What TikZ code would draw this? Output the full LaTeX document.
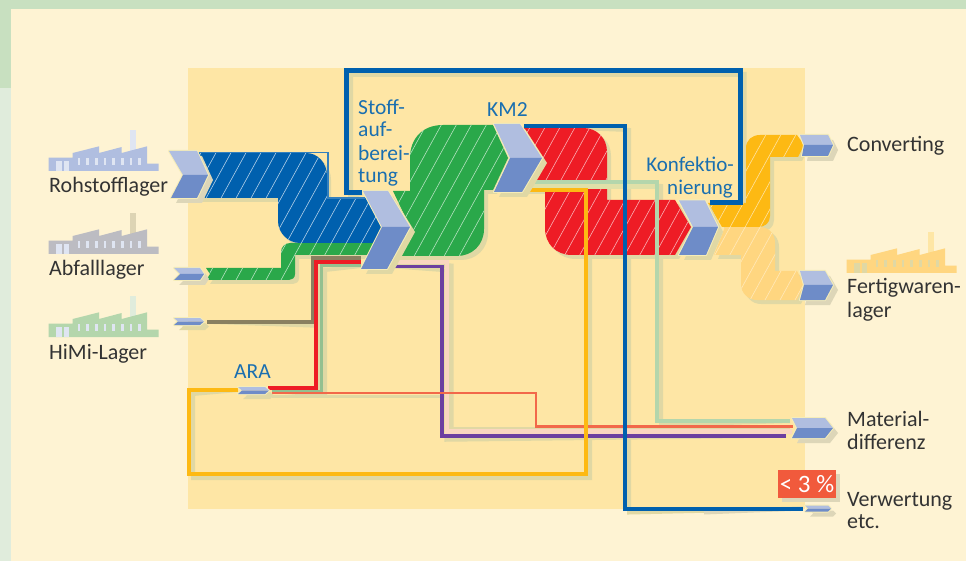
\documentclass[tikz,border=0pt]{standalone}
\usepackage{fontspec}
\setmainfont{Carlito}
\definecolor{cream}{HTML}{FEF3D3}
\definecolor{panel}{HTML}{FEE6A5}
\definecolor{topg}{HTML}{C8E0C0}
\definecolor{sideg}{HTML}{E0ECDC}
\definecolor{shad}{HTML}{E0D8A4}
\definecolor{shadc}{HTML}{DDD6B8}
\definecolor{fblue}{HTML}{0060AE}
\definecolor{fgreen}{HTML}{2AA84A}
\definecolor{fred}{HTML}{EE1C25}
\definecolor{forange}{HTML}{FDB913}
\definecolor{flight}{HTML}{FFD680}
\definecolor{palegreen}{HTML}{B4D6AC}
\definecolor{midgreen}{HTML}{94C090}
\definecolor{brownl}{HTML}{8A8060}
\definecolor{purplel}{HTML}{6C3FA0}
\definecolor{pinkl}{HTML}{FAD6C0}
\definecolor{coral}{HTML}{F2684A}
\definecolor{chevU}{HTML}{B0BEE0}
\definecolor{chevD}{HTML}{6E8CC8}
\definecolor{chevE}{HTML}{F6EDB8}
\definecolor{txt}{HTML}{333333}
\definecolor{txtb}{HTML}{1A6FB0}
\definecolor{badge}{HTML}{F15A3C}
\definecolor{factgrey}{HTML}{BCBCC2}
\definecolor{chimgrey}{HTML}{DDD4B4}
\definecolor{factwin}{HTML}{DFE5F2}
\tikzset{
  lab/.style={anchor=base west,inner sep=0pt,text=txt,font=\fontsize{22}{24}\selectfont},
  blab/.style={anchor=base west,inner sep=0pt,text=txtb,font=\fontsize{21.5}{24}\selectfont},
  blabr/.style={anchor=base east,inner sep=0pt,text=txtb,font=\fontsize{21}{24}\selectfont},
}
% flow block: fill colour, hatch colour, path
\newcommand\flowblock[3]{%
  \begin{scope}
    \fill[#1] #3;
    \clip #3;
    \foreach \c in {0,15,...,1200} \draw[#2,line width=.6pt] (\c,0) -- (\c-330,600);
  \end{scope}}
\newcommand\flowshadow[1]{\fill[shad,shift={(4,4)}] #1;}
% chevron: A top-left, B top-right, C tip, D bottom-right, E bottom-left, F notch
\newcommand\chev[7][shad]{%
  \fill[#1,shift={(5,5)}] #2 -- #3 -- #4 -- #5 -- #6 -- #7 -- cycle;
  \draw[chevE,line width=2pt,line join=round] #2 -- #3 -- #4 -- #5 -- #6 -- #7 -- cycle;
  \fill[chevU] #2 -- #3 -- #4 -- #7 -- cycle;
  \fill[chevD] #7 -- #4 -- #5 -- #6 -- cycle;}
% factory: x, y base, body, chimney, windows
\newcommand\factory[5]{%
  \begin{scope}[shift={(#1,#2)},x=.3333pt,y=-.3333pt]
    \fill[#4] (243,-122) rectangle (262,-50);
    \fill[#3] (0,0) -- (0,-40) -- (72,-40) -- (72,-54) -- (151,-74) -- (151,-54) -- (219,-72) -- (219,-54) -- (295,-74) -- (295,-22) -- (330,-22) -- (330,0) -- cycle;
    \fill[#5] (22,0) rectangle (40,-30);
    \fill[#5] (45,0) rectangle (60,-30);
    \foreach \w in {87,113,139,165,191,217,243,269} \fill[#5] (\w,-18) rectangle (\w+8,-40);
  \end{scope}}
\begin{document}
\begin{tikzpicture}[x=1pt,y=-1pt]
\useasboundingbox (0,0) rectangle (966,561);
% background
\fill[cream] (0,0) rectangle (966,561);
\fill[sideg] (0,0) rectangle (11,561);
\fill[topg] (0,0) rectangle (11,88);
\fill[topg] (0,0) rectangle (966,9);
\fill[panel] (188,68) rectangle (805,509);
% paths of the flow blocks
\def\pBlue{(198,153) -- (306,153) .. controls (318,153) and (327,163) .. (327,176) -- (327,198) -- (366,198) -- (385,227) -- (374,243) -- (300,243) .. controls (288,243) and (278,233) .. (278,221) -- (278,198) -- (198,198) -- (209,175) -- cycle}
\def\pGreenA{(206,268) -- (281,268) -- (281,252) .. controls (281,247) and (285,243) .. (290,243) -- (380,243) -- (372,255) -- (295,255) -- (295,274) .. controls (295,278) and (292,280) .. (289,280) -- (206,280) -- (210,274) -- cycle}
\def\pGreenB{(393,191) -- (410,191) -- (410,158) .. controls (410,139) and (422,125) .. (443,125) -- (493,125) -- (508,158) -- (493,190) -- (484,190) -- (484,229) .. controls (484,245) and (472,256) .. (457,256) -- (390,256) -- (410,227) -- cycle}
\def\pRed{(522,128) -- (583,128) .. controls (597,128) and (607,138) .. (607,152) -- (607,200) -- (675,200) -- (691,227) -- (675,255) -- (572,255) .. controls (556,255) and (545,244) .. (545,228) -- (545,190) -- (524,190) -- (542,158) -- cycle}
\def\pOrange{(708,203) -- (746,203) -- (746,148) .. controls (746,140) and (752,135) .. (760,135) -- (797,135) -- (804,145) -- (798,157) -- (770,157) -- (770,216) .. controls (770,223) and (765,227) .. (758,227) -- (722,227) -- cycle}
\def\pLight{(725,227) -- (760,227) .. controls (769,227) and (775,234) .. (775,243) -- (775,271) -- (797,271) -- (804,285) -- (797,300) -- (757,300) .. controls (748,300) and (741,293) .. (741,284) -- (741,255) -- (714,255) -- cycle}
% named line ends
\coordinate (loopA) at (362,193);
\coordinate (loopB) at (710,203);
\coordinate (kmBlueA) at (524,126);
\coordinate (verwA) at (803,508.5);
\coordinate (kmOrA) at (525,190);
\coordinate (araL) at (238,390);
\coordinate (kmGrA) at (525,182);
\coordinate (matA) at (790,421);
\coordinate (himiA) at (207,322);
\coordinate (stoffB) at (361,258);
\coordinate (stoffR) at (361,262);
\coordinate (araR) at (268,388);
\coordinate (stoffG) at (361,266);
\coordinate (araG) at (272,391);
\coordinate (stoffP) at (392,266.5);
\coordinate (matP) at (786,436);
\coordinate (stoffK) at (390,262);
\coordinate (matK) at (792,431.5);
\coordinate (araC) at (272,393);
\coordinate (matC) at (793,426.5);
\def\lLoop{(loopA) -- (346.5,193) -- (346.5,70.5) -- (740,70.5) -- (740,203) -- (loopB)}
\def\lKm{(kmBlueA) -- (625,126) -- (625,508.5) -- (verwA)}
\def\lOr{(kmOrA) -- (586,190) -- (586,474) -- (189,474) -- (189,390) -- (araL)}
\def\lGr{(kmGrA) -- (657,182) -- (657,421) -- (matA)}
\def\lBr{(himiA) -- (313,322) -- (313,258) -- (stoffB)}
\def\lRe{(stoffR) -- (316,262) -- (316,388) -- (araR)}
\def\lMg{(stoffG) -- (321,266) -- (321,391) -- (araG)}
\def\lPu{(stoffP) -- (442,266.5) -- (442,436) -- (matP)}
\def\lPk{(stoffK) -- (447,262) -- (447,431.5) -- (matK)}
\def\lCo{(araC) -- (536,393) -- (536,426.5) -- (matC)}
% line shadows
\begin{scope}[shift={(4,4)},shad]
  \draw[line width=5pt] \lLoop;
  \draw[line width=4pt] \lKm;
  \draw[line width=4pt] \lOr;
  \draw[line width=4pt] \lGr;
  \draw[line width=3.5pt] \lBr;
  \draw[line width=4pt] \lMg;
  \draw[line width=4pt] \lRe;
  \draw[line width=3.5pt] \lPu;
  \draw[line width=5pt] \lPk;
\end{scope}
\draw[shadc,line width=4pt,shift={(4,4)}] (700,508.5) -- (verwA);
\draw[shad,line width=3pt] (272,396) -- (450,396);
\draw[shad,line width=3pt] (447,428.5) -- (790,428.5);
% flow blocks
\flowshadow{\pBlue}
\flowshadow{\pGreenA}
\flowshadow{\pGreenB}
\flowshadow{\pRed}
\flowshadow{\pOrange}
\flowshadow{\pLight}
\flowblock{flight}{white!45!flight}{\pLight}
\flowblock{forange}{white!60!forange}{\pOrange}
\flowblock{fgreen}{white!65!fgreen}{\pGreenA}
\flowblock{fblue}{white!70!fblue}{\pBlue}
\draw[fblue!80!white,line width=1.4pt] (198,152.5) -- (328,152.5) -- (328,198) -- (365,198);
\flowblock{fgreen}{white!65!fgreen}{\pGreenB}
\flowblock{fred}{white!65!fred}{\pRed}
% lines
\draw[panel!60!palegreen,line width=5pt] (525,187) -- (655,187);
\draw[brownl,line width=3.5pt] \lBr;
\draw[midgreen,line width=3pt] \lMg;
\draw[fred,line width=4pt] \lRe;
\draw[pinkl,line width=4.5pt] \lPk;
\draw[purplel,line width=3.5pt] \lPu;
\draw[coral,line width=2.6pt] \lCo;
\draw[forange,line width=4pt] \lOr;
\draw[palegreen,line width=4pt] \lGr;
\draw[fblue,line width=4pt] \lKm;
\draw[fblue,line width=5pt] \lLoop;
% chevrons
\chev[shadc]{(169,151)}{(197,151)}{(208,175)}{(197,198)}{(171,198)}{(183,175)}
\chev[shadc]{(174,268)}{(200,268)}{(204,274)}{(200,280)}{(174,280)}{(180,274)}
\chev{(174,318)}{(200,318)}{(204,321.5)}{(200,325)}{(174,325)}{(178,321.5)}
\chev{(363,191)}{(388,191)}{(410,227)}{(387,269)}{(361,269)}{(382,227)}
\chev{(494,124)}{(520,124)}{(542,158)}{(522,192)}{(494,192)}{(510,158)}
\chev{(679,200.5)}{(705,200.5)}{(718,227)}{(706,255)}{(679,255)}{(693,227)}
\chev[shadc]{(800,135)}{(828,135)}{(833,145)}{(828,156)}{(802,156)}{(804,145)}
\chev[shadc]{(800,271)}{(825,271)}{(833,285)}{(825,300)}{(800,300)}{(804,285)}
\chev[shadc]{(792,418)}{(825,418)}{(833,428)}{(825,438)}{(792,438)}{(797,428)}
\chev{(238,387)}{(265,387)}{(269,390.5)}{(265,394)}{(238,394)}{(242,390.5)}
\chev[shadc]{(805,505.5)}{(828,505.5)}{(831,508.5)}{(828,511.5)}{(805,511.5)}{(808,508.5)}
% factories
\factory{48.7}{171}{chevU}{factwin}{factwin}
\factory{48.7}{254}{factgrey}{chimgrey}{factwin}
\factory{48.7}{337}{palegreen}{sideg}{factwin}
\factory{846.7}{273}{flight}{panel}{shad}
% badge
\fill[shadc] (782,474) rectangle (840,502);
\node[fill=badge,minimum width=58pt,minimum height=28pt,inner sep=0pt,text=white,font=\fontsize{25}{27}\selectfont] (badgeN) at (807,484) {< 3 \%};
% labels
\node[lab] (roh) at (49,193) {Rohstofflager};
\node[lab] (abf) at (49,276) {Abfalllager};
\node[lab] (himi) at (49,359) {HiMi-Lager};
\node[lab] (conv) at (847,152) {Converting};
\node[lab] (fert1) at (847,294) {Fertigwaren-};
\node[lab] (fert2) at (847,317) {lager};
\node[lab] (mat1) at (847,426) {Material-};
\node[lab] (mat2) at (847,449) {differenz};
\node[lab] (ver1) at (847,506) {Verwertung};
\node[lab] (ver2) at (847,528) {etc.};
\node[blab] (st1) at (358,115) {Stoff-};
\node[blab] (st2) at (358,137) {auf-};
\node[blab] (st3) at (358,161) {berei-};
\node[blab] (st4) at (358,183) {tung};
\node[blab] (km) at (487,117) {KM2};
\node[blabr] (ko1) at (734,172) {Konfektio-};
\node[blabr] (ko2) at (733,195) {nierung};
\node[blab] (ara) at (234,378) {ARA};
\end{tikzpicture}
\end{document}
